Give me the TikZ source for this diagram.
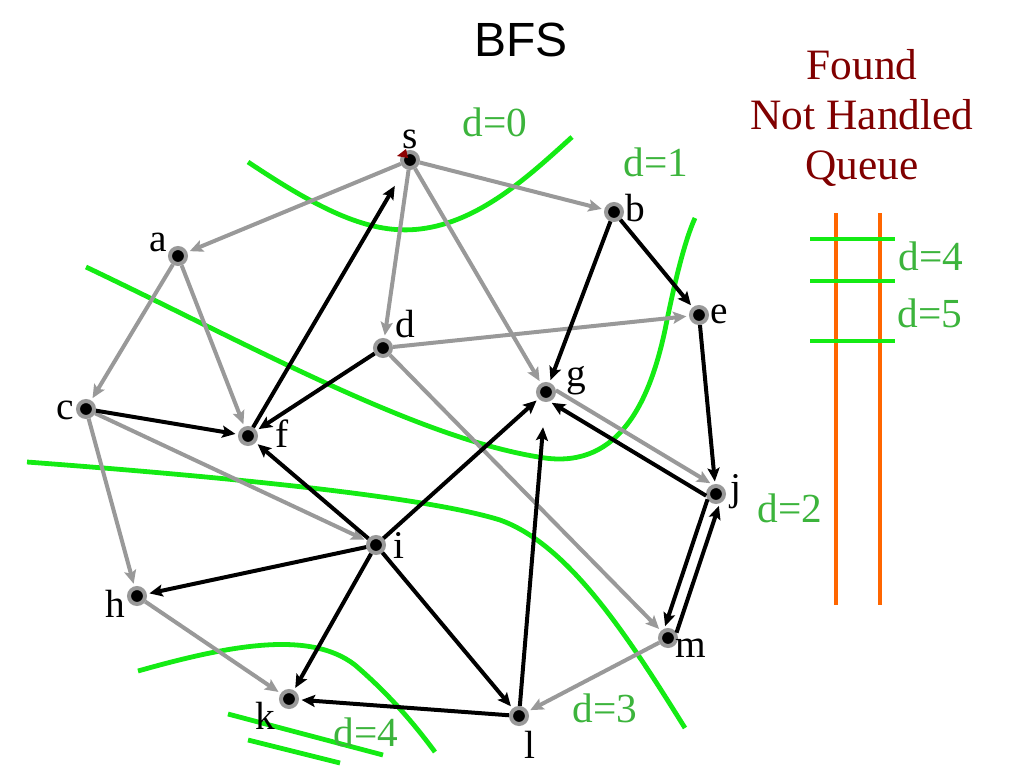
\documentclass[tikz,border=0pt]{standalone}
\usepackage{fontspec}
\setmainfont{Liberation Serif}
\newfontfamily\titlefont{Liberation Sans}
\usetikzlibrary{arrows.meta,calc}
\definecolor{edgegray}{RGB}{153,153,153}
\definecolor{cutgreen}{RGB}{20,235,20}
\definecolor{txtgreen}{RGB}{60,180,60}
\definecolor{qorange}{RGB}{255,102,0}
\definecolor{qred}{RGB}{128,0,0}
\begin{document}
\begin{tikzpicture}[x=0.75pt,y=-0.75pt,
  vtx/.style={circle,fill=black,draw=edgegray,line width=3pt,minimum size=12pt,inner sep=0pt},
  lbl/.style={inner sep=0pt,font=\fontsize{29.5}{34}\selectfont},
  tip/.style={-{Stealth[length=10pt,width=9pt,inset=2pt]}},
  graye/.style={draw=edgegray,line width=3pt,tip,shorten >=2pt},
  blacke/.style={draw=black,line width=3pt,tip,shorten >=2pt},
  cut/.style={draw=cutgreen,line width=3.6pt},
  dlbl/.style={text=txtgreen,inner sep=0pt,font=\fontsize{31}{36}\selectfont},
  qline/.style={draw=qorange,line width=2.6pt},
  qcut/.style={draw=cutgreen,line width=3.6pt}]
\useasboundingbox (0,0) rectangle (1024,768);

% title
\node[font=\titlefont\fontsize{36}{40}\selectfont,inner sep=0pt] (title) at (521,40) {BFS};

% queue legend
\node[text=qred,align=center,inner sep=0pt,font=\fontsize{32.5}{37.5}\selectfont] (legend) at (862,118) {Found\\Not Handled\\Queue};
\coordinate (q1t) at (836,213); \coordinate (q1b) at (836,605);
\coordinate (q2t) at (880,213); \coordinate (q2b) at (880,605);
\draw[qline] (q1t) -- (q1b);
\draw[qline] (q2t) -- (q2b);
\coordinate (h1l) at (810,239); \coordinate (h1r) at (895,239);
\coordinate (h2l) at (810,281); \coordinate (h2r) at (895,281);
\coordinate (h3l) at (810,341); \coordinate (h3r) at (895,341);
\draw[qcut] (h1l) -- (h1r);
\draw[qcut] (h2l) -- (h2r);
\draw[qcut] (h3l) -- (h3r);
\node[dlbl] (qd4) at (931,256) {d=4};
\node[dlbl] (qd5) at (930,313) {d=5};

% green cut curves
\draw[cut] (248,162) .. controls (320,210) and (370,235) .. (420,229) .. controls (480,222) and (530,175) .. (572,137);
\draw[cut] (86,267) .. controls (250,345) and (420,440) .. (545,458) .. controls (620,468) and (650,400) .. (665,330) .. controls (675,280) and (685,240) .. (695,218);
\draw[cut] (27,462) .. controls (200,475) and (420,495) .. (500,520) .. controls (570,545) and (630,640) .. (685,728);
\draw[cut] (138,671) .. controls (230,645) and (310,630) .. (355,665) .. controls (390,695) and (415,725) .. (435,752);
\coordinate (c1a) at (228,714); \coordinate (c1b) at (383,755);
\coordinate (c2a) at (248,740); \coordinate (c2b) at (340,763);
\draw[cut] (c1a) -- (c1b);
\draw[cut] (c2a) -- (c2b);

\node[dlbl] (d0) at (495,122) {d=0};
\node[dlbl] (d1) at (656,162) {d=1};
\node[dlbl] (d2) at (790,508) {d=2};
\node[dlbl] (d3) at (605,708) {d=3};
\node[dlbl] (d4) at (366,732) {d=4};

% vertices
\node[vtx] (s) at (410,160) {};
\node[vtx] (a) at (178,256) {};
\node[vtx] (b) at (614,212) {};
\node[vtx] (d) at (383,348) {};
\node[vtx] (e) at (699,315) {};
\node[vtx] (c) at (86,409) {};
\node[vtx] (f) at (248,436) {};
\node[vtx] (g) at (546,392) {};
\node[vtx] (i) at (376,545) {};
\node[vtx] (j) at (716,494) {};
\node[vtx] (h) at (137,596) {};
\node[vtx] (m) at (668,638) {};
\node[vtx] (k) at (289,699) {};
\node[vtx] (l) at (519,716) {};

% vertex labels
\node[lbl] (ls) at (410,139) {s};
\node[lbl] (la) at (158,242) {a};
\node[lbl] (lb) at (635,208) {b};
\node[lbl] (ld) at (405,324) {d};
\node[lbl] (le) at (719,314) {e};
\node[lbl] (lc) at (65,410) {c};
\node[lbl] (lf) at (282,434) {f};
\node[lbl] (lg) at (576,381) {g};
\node[lbl] (li) at (399,545) {i};
\node[lbl] (lj) at (736,492) {j};
\node[lbl] (lh) at (115,604) {h};
\node[lbl] (lm) at (691,648) {m};
\node[lbl] (lk) at (265,716) {k};
\node[lbl] (ll) at (530,745) {l};

% gray edges
\draw[graye] (s) -- (a);
\draw[graye] (s) -- (b);
\draw[graye] (s) -- (d);
\draw[graye] (s) -- (g);
\draw[graye] (a) -- (c);
\draw[graye] (a) -- (f);
\draw[graye] (d) -- (e);
\draw[graye] (d) -- (m);
\draw[graye] (c) -- (i);
\draw[graye] (c) -- (h);
\draw[graye] (h) -- (k);
\draw[graye] (m) -- (l);
\draw[graye] (g.10) -- (j.110);

% black edges
\draw[blacke] (b) -- (g);
\draw[blacke] (b) -- (e);
\draw[blacke] (e) -- (j);
\draw[blacke] (c) -- (f);
\draw[blacke] (d) -- (f);
\draw[blacke,shorten >=15pt] (f) -- (s);
\draw[blacke] (i) -- (f);
\draw[blacke] (i) -- (g);
\draw[blacke] (i) -- (h);
\draw[blacke] (i) -- (k);
\draw[blacke] (i) -- (l);
\draw[blacke,shorten >=19pt] (l) -- (g);
\draw[blacke] (l) -- (k);
\draw[blacke] (j.190) -- (g.-70);
\draw[blacke] (j.-148) -- (m.112);
\draw[blacke] (m.32) -- (j.-68);

% small red mark at s
\fill[qred!90!red] ($(s)+(-13,-4)$) -- ($(s)+(-4,-11)$) -- ($(s)+(-2,-2)$) -- cycle;
\end{tikzpicture}
\end{document}
